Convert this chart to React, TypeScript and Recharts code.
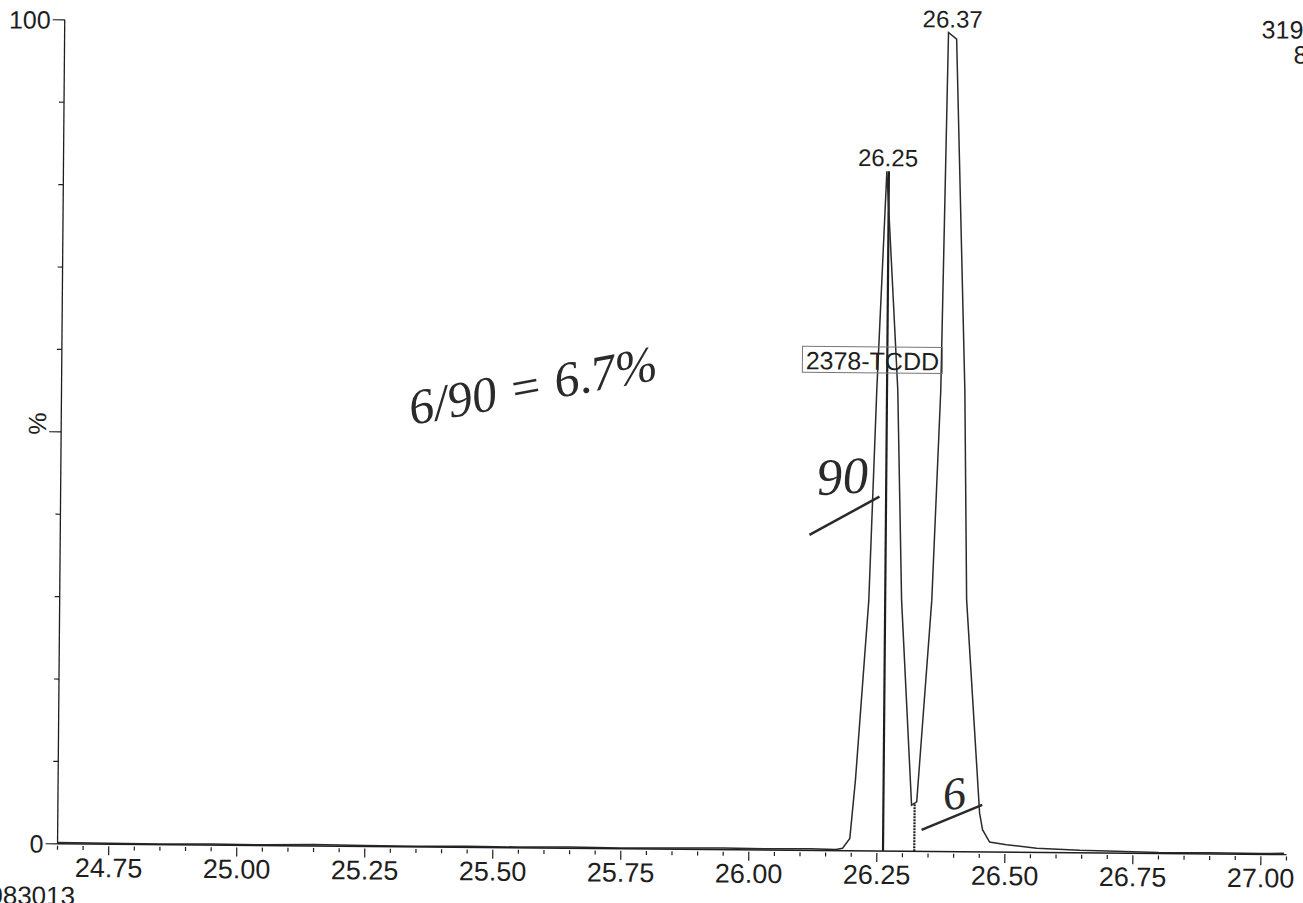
import React from "react"
import { LineChart, Line, XAxis, YAxis, ReferenceLine, ReferenceDot } from "recharts"

// chromatogram trace: retention time (min) and relative intensity (%)
const retentionTimes = [
  24.65, 24.75, 24.85, 24.95, 25.05, 25.15, 25.25, 25.35, 25.45, 25.55, 25.65, 25.75, 25.85, 25.95,
  26.05, 26.12, 26.17, 26.183, 26.197, 26.207, 26.23, 26.242, 26.258, 26.283, 26.294, 26.317, 26.327,
  26.353, 26.367, 26.376, 26.392, 26.414, 26.421, 26.45, 26.456, 26.47, 26.503, 26.562, 26.646, 26.7,
  26.8, 26.9, 27.0, 27.045,
]
const intensities = [
  0.15, 0.12, 0.1, 0.15, 0.1, 0.2, 0.12, 0.1, 0.15, 0.1, 0.15, 0.1, 0.15, 0.2,
  0.15, 0.2, 0.15, 0.3, 1.5, 8.6, 30.4, 55.9, 82.5, 56.0, 30.5, 5.6, 6.0,
  30.5, 56.0, 99.4, 98.6, 56.0, 30.6, 4.7, 2.7, 1.2, 0.9, 0.5, 0.3, 0.25,
  0.1, 0.15, 0.1, 0.15,
]

// peak apex labels
const peakTimes = [26.26, 26.384]
const peakHeights = [82.5, 99.4]
const peakLabels = ["26.25", "26.37"]

// integration drop lines
const markerTimes = [26.262, 26.323]
const markerTops = [82.5, 5.8]

const compoundName = "2378-TCDD"
const compoundPos = { rt: 26.233, value: 59.6 }

const xLabels = [24.75, 25.0, 25.25, 25.5, 25.75, 26.0, 26.25, 26.5, 26.75, 27.0]
const xMinorTicks = Array.from({ length: 49 }, (_, i) => +(24.65 + i * 0.05).toFixed(2))
const yTicks = [0, 10, 20, 30, 40, 50, 60, 70, 80, 90, 100]
const yLabels: Record<number, string> = { 0: "0", 50: "%", 100: "100" }

// handwritten notes on the printout
const noteTexts = ["6/90 = 6.7%", "90", "6"]
const notePos = [
  { rt: 25.335, value: 51.2, size: 50, angle: -11 },
  { rt: 26.128, value: 43.1, size: 52, angle: -4 },
  { rt: 26.382, value: 5.0, size: 46, angle: -8 },
]
const noteStrokes = [
  [{ x: 26.113, y: 38.3 }, { x: 26.249, y: 43.0 }],
  [{ x: 26.337, y: 2.6 }, { x: 26.455, y: 5.7 }],
]

const data = retentionTimes.map((rt, i) => ({ rt, value: intensities[i] }))

const FONT = "'Liberation Sans', Arial, sans-serif"
const INK = "#1e1e1e"

const XTick = (props: any) => {
  const { x, y, payload } = props
  const v = payload.value
  const major = xLabels.some((m) => Math.abs(m - v) < 1e-6)
  return (
    <g>
      <line x1={x} x2={x} y1={y + 2} y2={y + (major ? 11 : 6)} stroke={INK} strokeWidth={1.2} />
      {major && (
        <text x={x} y={y + 33} textAnchor="middle" fontSize={27} fontFamily={FONT} fill={INK}>
          {v.toFixed(2)}
        </text>
      )}
    </g>
  )
}

const YTick = (props: any) => {
  const { x, y, payload } = props
  const label = yLabels[payload.value]
  const len = label ? 12 : 5
  return (
    <g>
      <line x1={x - len} x2={x} y1={y} y2={y} stroke={INK} strokeWidth={1.2} />
      {label === "%" ? (
        <text x={x - len - 4} y={y} textAnchor="middle" fontSize={25} fontFamily={FONT} fill={INK}
          transform={`rotate(-90 ${x - len - 12} ${y})`} dominantBaseline="central">
          %
        </text>
      ) : label ? (
        <text x={x - len - 2} y={y} textAnchor="end" dominantBaseline="central" fontSize={25} fontFamily={FONT} fill={INK}>
          {label}
        </text>
      ) : null}
    </g>
  )
}

const PeakLabel = (props: any) => {
  const { viewBox, value } = props
  return (
    <text x={viewBox.x} y={viewBox.y - 5} textAnchor="middle" fontSize={24} fontFamily={FONT} fill={INK}>
      {value}
    </text>
  )
}

const BoxLabel = (props: any) => {
  const { viewBox, value } = props
  const w = 140
  const h = 26
  return (
    <g>
      <rect x={viewBox.x - w / 2} y={viewBox.y - h / 2} width={w} height={h} fill="none" stroke="#777" strokeWidth={1} />
      <text x={viewBox.x} y={viewBox.y + 1} textAnchor="middle" dominantBaseline="central" fontSize={25} fontFamily={FONT} fill={INK}>
        {value}
      </text>
    </g>
  )
}

const NoteLabel = (size: number, angle: number) => (props: any) => {
  const { viewBox, value } = props
  return (
    <text x={viewBox.x} y={viewBox.y} fontSize={size} fontFamily="'Liberation Serif', serif" fontStyle="italic"
      fill="#2a2a2a" transform={`rotate(${angle} ${viewBox.x} ${viewBox.y})`}>
      {value}
    </text>
  )
}

export default function App() {
  return (
    <div style={{ position: "absolute", left: 0, top: 0, width: 1303, height: 903, overflow: "hidden", background: "#fff" }}>
      <div style={{ position: "absolute", left: 0, top: 0, width: 1303, height: 903, transform: "rotate(0.5deg)", transformOrigin: "651px 451px" }}>
        <LineChart width={1303} height={903} data={data} margin={{ top: 25, right: 13, bottom: 0, left: 0 }}>
          <XAxis dataKey="rt" type="number" domain={[24.65, 27.05]} ticks={xMinorTicks} interval={0} allowDataOverflow
            height={54} tickSize={0} tickMargin={0} tick={<XTick />} axisLine={{ stroke: INK, strokeWidth: 1.5 }} />
          <YAxis type="number" domain={[0, 100]} ticks={yTicks} interval={0} width={61} tickSize={0} tickMargin={0}
            tick={<YTick />} axisLine={{ stroke: INK, strokeWidth: 1.3 }} />
          {markerTimes.map((t, i) => (
            <ReferenceLine key={`m${i}`} segment={[{ x: t, y: 0 }, { x: t, y: markerTops[i] }]} stroke={INK}
              strokeWidth={2.2} strokeDasharray={i === 1 ? "2 1" : undefined} />
          ))}
          <Line type="linear" dataKey="value" stroke="#2b2b2b" strokeWidth={1.5} dot={false} isAnimationActive={false} />
          {peakTimes.map((t, i) => (
            <ReferenceDot key={`p${i}`} x={t} y={peakHeights[i]} r={0} fill="none" stroke="none"
              label={{ content: PeakLabel, value: peakLabels[i] }} />
          ))}
          <ReferenceDot x={compoundPos.rt} y={compoundPos.value} r={0} fill="none" stroke="none"
            label={{ content: BoxLabel, value: compoundName }} />
          {noteTexts.map((t, i) => (
            <ReferenceDot key={`n${i}`} x={notePos[i].rt} y={notePos[i].value} r={0} fill="none" stroke="none"
              label={{ content: NoteLabel(notePos[i].size, notePos[i].angle), value: t }} />
          ))}
          {noteStrokes.map((s, i) => (
            <ReferenceLine key={`s${i}`} segment={s} stroke="#2a2a2a" strokeWidth={2.5} />
          ))}
        </LineChart>
        <div style={{ position: "absolute", left: 1258, top: 12, fontSize: 25, fontFamily: FONT, color: INK, whiteSpace: "nowrap", lineHeight: "25px" }}>
          319.8965
        </div>
        <div style={{ position: "absolute", left: 1290, top: 37, fontSize: 25, fontFamily: FONT, color: INK, whiteSpace: "nowrap", lineHeight: "25px" }}>
          8.10e5
        </div>
        <div style={{ position: "absolute", right: 1303 - 79, top: 888, fontSize: 26, fontFamily: FONT, color: INK, whiteSpace: "nowrap", lineHeight: "26px" }}>
          2083013
        </div>
      </div>
    </div>
  )
}
